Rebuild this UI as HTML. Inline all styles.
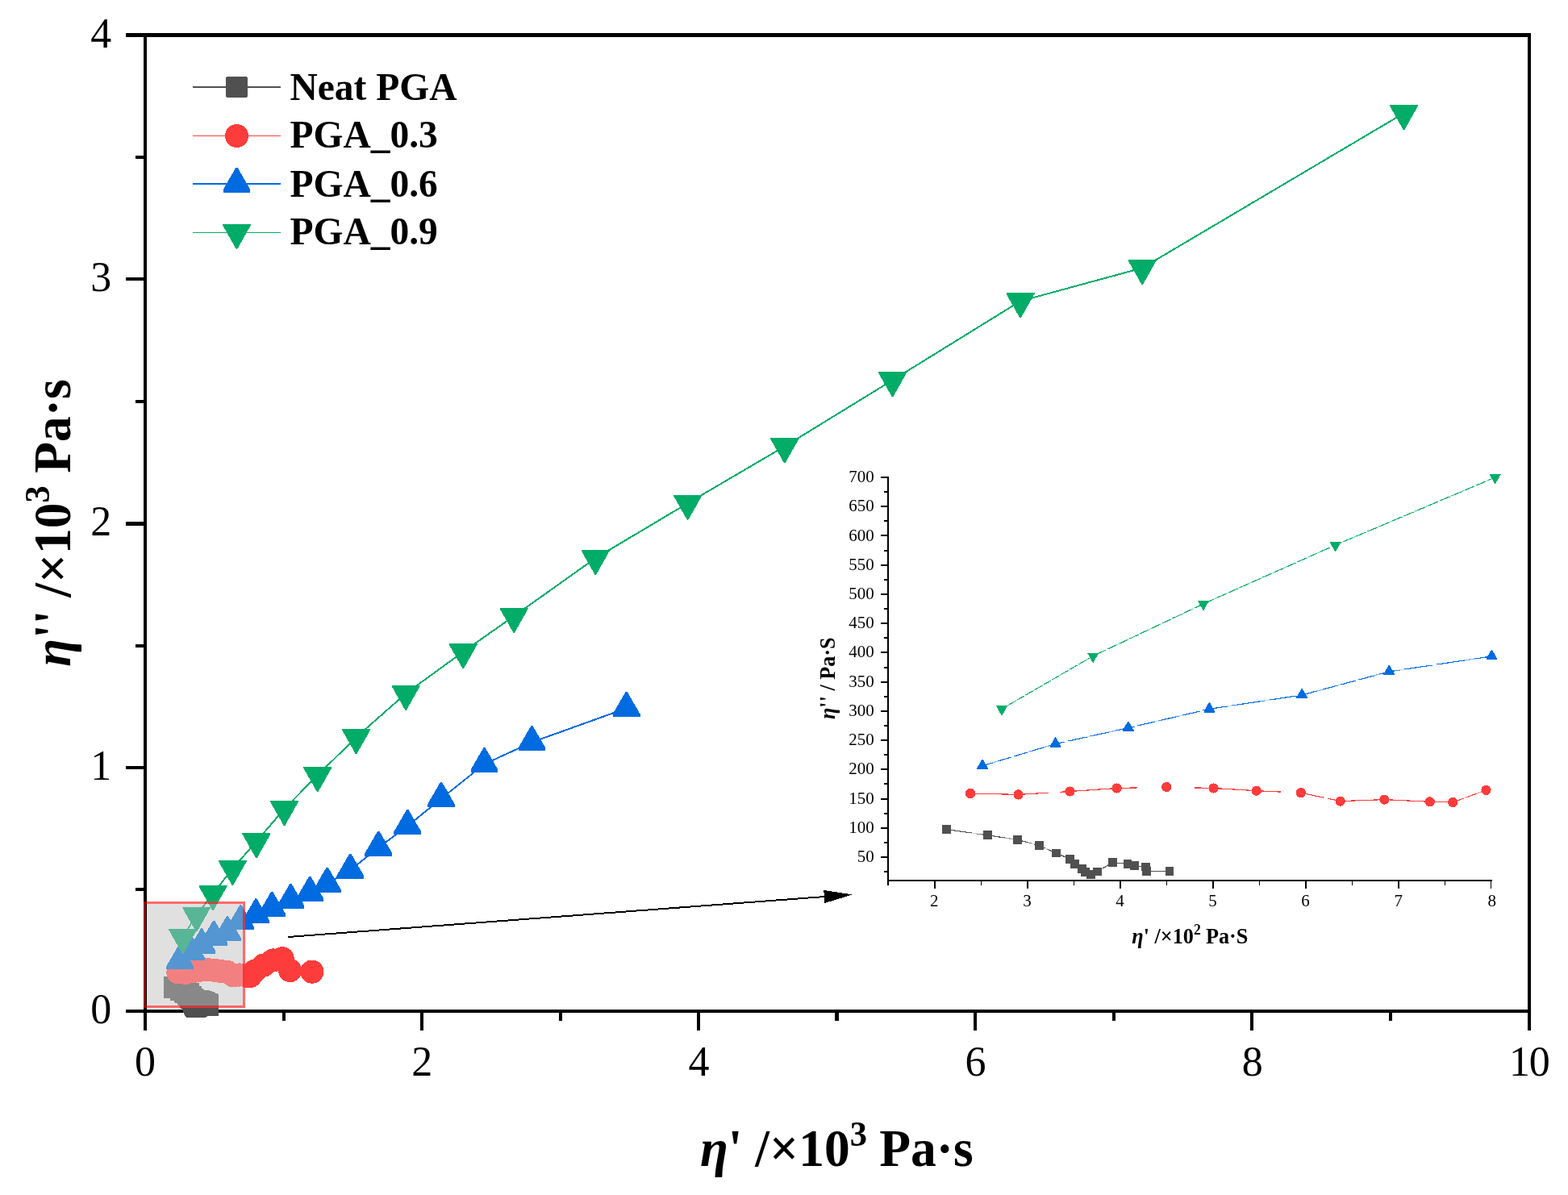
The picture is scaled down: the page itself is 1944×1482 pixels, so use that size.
<!DOCTYPE html>
<html lang="en">
<head>
<meta charset="utf-8">
<title>Cole-Cole plot</title>
<style>
html,body{margin:0;padding:0;background:#fff;}
body{width:1944px;height:1482px;overflow:hidden;font-family:"Liberation Serif",serif;}
svg{display:block;}
</style>
</head>
<body>
<svg width="1944" height="1482" viewBox="0 0 1944 1482">
<rect width="1944" height="1482" fill="#fff"/>
<g id="main-axes" shape-rendering="crispEdges">
<rect x="156" y="41" width="1742" height="5" fill="#000"/>
<rect x="156" y="1252" width="1742" height="4" fill="#000"/>
<rect x="178" y="41" width="4" height="1237" fill="#000"/>
<rect x="1894" y="41" width="4" height="1237" fill="#000"/>
<rect x="156" y="1252" width="24" height="4" fill="#000"/>
<rect x="168" y="1101" width="12" height="4" fill="#000"/>
<rect x="156" y="950" width="24" height="4" fill="#000"/>
<rect x="168" y="799" width="12" height="4" fill="#000"/>
<rect x="156" y="647" width="24" height="5" fill="#000"/>
<rect x="168" y="496" width="12" height="4" fill="#000"/>
<rect x="156" y="344" width="24" height="4" fill="#000"/>
<rect x="168" y="193" width="12" height="4" fill="#000"/>
<rect x="156" y="41" width="24" height="5" fill="#000"/>
<rect x="178" y="1254" width="4" height="24" fill="#000"/>
<rect x="350" y="1254" width="4" height="12" fill="#000"/>
<rect x="521" y="1254" width="4" height="24" fill="#000"/>
<rect x="693" y="1254" width="4" height="12" fill="#000"/>
<rect x="864" y="1254" width="4" height="24" fill="#000"/>
<rect x="1035" y="1254" width="5" height="12" fill="#000"/>
<rect x="1207" y="1254" width="4" height="24" fill="#000"/>
<rect x="1379" y="1254" width="4" height="12" fill="#000"/>
<rect x="1550" y="1254" width="4" height="24" fill="#000"/>
<rect x="1722" y="1254" width="4" height="12" fill="#000"/>
<rect x="1894" y="1254" width="4" height="24" fill="#000"/>
</g>
<g id="main-ticklabels" font-family="'Liberation Serif', serif" font-size="52" fill="#000">
<text transform="translate(180,1333.7) scale(1,1.024)" text-anchor="middle">0</text>
<text transform="translate(523.2,1333.7) scale(1,1.024)" text-anchor="middle">2</text>
<text transform="translate(866.4,1333.7) scale(1,1.024)" text-anchor="middle">4</text>
<text transform="translate(1209.6,1333.7) scale(1,1.024)" text-anchor="middle">6</text>
<text transform="translate(1552.8,1333.7) scale(1,1.024)" text-anchor="middle">8</text>
<text transform="translate(1895.8,1333.7) scale(1,1.024)" text-anchor="middle" letter-spacing="-1.2">10</text>
<text transform="translate(138.2,1269.3) scale(1,1.024)" text-anchor="end">0</text>
<text transform="translate(138.2,966.7) scale(1,1.024)" text-anchor="end">1</text>
<text transform="translate(138.2,664) scale(1,1.024)" text-anchor="end">2</text>
<text transform="translate(138.2,361.4) scale(1,1.024)" text-anchor="end">3</text>
<text transform="translate(138.2,58.8) scale(1,1.024)" text-anchor="end">4</text>
</g>
<g id="titles" font-family="'Liberation Serif', serif" font-weight="bold" font-size="63.5" fill="#000">
<text transform="translate(868,1446) scale(1,1.024)" text-anchor="start"><tspan font-style="italic">η</tspan>' /×10<tspan font-size="42.6" dy="-24.8">3</tspan><tspan dy="24.8" dx="-0.5"> Pa·s</tspan></text>
<text transform="translate(86.6,826.7) rotate(-90) scale(1,1.024)" text-anchor="start"><tspan font-style="italic">η</tspan>'' /×10<tspan font-size="42.6" dy="-24.8">3</tspan><tspan dy="24.8" dx="-0.5"> Pa·s</tspan></text>
</g>
<defs>
<clipPath id="cin"><rect x="178.2" y="1118.2" width="125.7" height="131.8"/></clipPath>
<clipPath id="cout"><path clip-rule="evenodd" d="M0 0H1944 V1482 H0Z M178.2 1118.2 H303.9 V1250 H178.2 Z"/></clipPath>
</defs>
<g id="main-series" clip-path="url(#cout)" shape-rendering="crispEdges">
<polyline points="216.5,1224.5 224.1,1227.5 229.6,1229.9 233.6,1232.9 236.7,1236.8 239.3,1239.9 240.2,1242.5 241.5,1245 242.2,1246.7 243.2,1247.7 244.4,1246.4 247.2,1241.6 250,1242.5 251.3,1243.4 253.3,1243.9 253.5,1246.2 257.7,1246.2" fill="none" stroke="#505050" stroke-width="1.8"/>
<rect x="203" y="1210.7" width="27" height="27.6" rx="1.5" fill="#505050"/>
<rect x="210.6" y="1213.7" width="27" height="27.6" rx="1.5" fill="#505050"/>
<rect x="216.1" y="1216.1" width="27" height="27.6" rx="1.5" fill="#505050"/>
<rect x="220.1" y="1219.1" width="27" height="27.6" rx="1.5" fill="#505050"/>
<rect x="223.2" y="1223" width="27" height="27.6" rx="1.5" fill="#505050"/>
<rect x="225.8" y="1226.1" width="27" height="27.6" rx="1.5" fill="#505050"/>
<rect x="226.7" y="1228.7" width="27" height="27.6" rx="1.5" fill="#505050"/>
<rect x="228" y="1231.2" width="27" height="27.6" rx="1.5" fill="#505050"/>
<rect x="228.7" y="1232.9" width="27" height="27.6" rx="1.5" fill="#505050"/>
<rect x="229.7" y="1233.9" width="27" height="27.6" rx="1.5" fill="#505050"/>
<rect x="230.9" y="1232.6" width="27" height="27.6" rx="1.5" fill="#505050"/>
<rect x="233.7" y="1227.8" width="27" height="27.6" rx="1.5" fill="#505050"/>
<rect x="236.5" y="1228.7" width="27" height="27.6" rx="1.5" fill="#505050"/>
<rect x="237.8" y="1229.6" width="27" height="27.6" rx="1.5" fill="#505050"/>
<rect x="239.8" y="1230.1" width="27" height="27.6" rx="1.5" fill="#505050"/>
<rect x="240" y="1232.4" width="27" height="27.6" rx="1.5" fill="#505050"/>
<rect x="244.2" y="1232.4" width="27" height="27.6" rx="1.5" fill="#505050"/>
<polyline points="220.9,1205.9 229.8,1206.5 239.3,1204.8 248,1203.2 257.2,1202.5 265.9,1203.2 273.8,1204.5 282,1205.5 289.3,1209.9 297.4,1209 305.8,1210.2 310.1,1210.5 316.2,1204.1 327,1197 338.5,1191 350.1,1188.7 359.6,1203.5 386.9,1205.1" fill="none" stroke="#FE3C3C" stroke-width="1.6"/>
<circle cx="220.9" cy="1205.9" r="14.6" fill="#FE3C3C"/>
<circle cx="229.8" cy="1206.5" r="14.6" fill="#FE3C3C"/>
<circle cx="239.3" cy="1204.8" r="14.6" fill="#FE3C3C"/>
<circle cx="248" cy="1203.2" r="14.6" fill="#FE3C3C"/>
<circle cx="257.2" cy="1202.5" r="14.6" fill="#FE3C3C"/>
<circle cx="265.9" cy="1203.2" r="14.6" fill="#FE3C3C"/>
<circle cx="273.8" cy="1204.5" r="14.6" fill="#FE3C3C"/>
<circle cx="282" cy="1205.5" r="14.6" fill="#FE3C3C"/>
<circle cx="289.3" cy="1209.9" r="14.6" fill="#FE3C3C"/>
<circle cx="297.4" cy="1209" r="14.6" fill="#FE3C3C"/>
<circle cx="305.8" cy="1210.2" r="14.6" fill="#FE3C3C"/>
<circle cx="310.1" cy="1210.5" r="14.6" fill="#FE3C3C"/>
<circle cx="316.2" cy="1204.1" r="14.6" fill="#FE3C3C"/>
<circle cx="327" cy="1197" r="14.6" fill="#FE3C3C"/>
<circle cx="338.5" cy="1191" r="14.6" fill="#FE3C3C"/>
<circle cx="350.1" cy="1188.7" r="14.6" fill="#FE3C3C"/>
<circle cx="359.6" cy="1203.5" r="14.6" fill="#FE3C3C"/>
<circle cx="386.9" cy="1205.1" r="14.6" fill="#FE3C3C"/>
<polyline points="223.1,1191.5 236.6,1180.2 250.1,1171.9 265.1,1162.1 282,1156.5 298.3,1142.8 317.3,1134.8 337.1,1126.2 360.4,1116.3 384.2,1107.2 405.7,1096 434.3,1079.1 469.3,1051.1 505.3,1024.4 547,990.4 600.5,947.6 659.4,920.5 776.6,878.4" fill="none" stroke="#006BE0" stroke-width="2"/>
<polygon points="222.1,1171 224.1,1171 240,1198.5 240,1202.1 206.2,1202.1 206.2,1198.5" fill="#006BE0"/>
<polygon points="235.6,1159.7 237.6,1159.7 253.5,1187.2 253.5,1190.8 219.7,1190.8 219.7,1187.2" fill="#006BE0"/>
<polygon points="249.1,1151.4 251.1,1151.4 267,1178.9 267,1182.5 233.2,1182.5 233.2,1178.9" fill="#006BE0"/>
<polygon points="264.1,1141.6 266.1,1141.6 282,1169.1 282,1172.7 248.2,1172.7 248.2,1169.1" fill="#006BE0"/>
<polygon points="281,1136 283,1136 298.9,1163.5 298.9,1167.1 265.1,1167.1 265.1,1163.5" fill="#006BE0"/>
<polygon points="297.3,1122.3 299.3,1122.3 315.2,1149.8 315.2,1153.4 281.4,1153.4 281.4,1149.8" fill="#006BE0"/>
<polygon points="316.3,1114.3 318.3,1114.3 334.2,1141.8 334.2,1145.4 300.4,1145.4 300.4,1141.8" fill="#006BE0"/>
<polygon points="336.1,1105.7 338.1,1105.7 354,1133.2 354,1136.8 320.2,1136.8 320.2,1133.2" fill="#006BE0"/>
<polygon points="359.4,1095.8 361.4,1095.8 377.3,1123.3 377.3,1126.9 343.5,1126.9 343.5,1123.3" fill="#006BE0"/>
<polygon points="383.2,1086.7 385.2,1086.7 401.1,1114.2 401.1,1117.8 367.3,1117.8 367.3,1114.2" fill="#006BE0"/>
<polygon points="404.7,1075.5 406.7,1075.5 422.6,1103 422.6,1106.6 388.8,1106.6 388.8,1103" fill="#006BE0"/>
<polygon points="433.3,1058.6 435.3,1058.6 451.2,1086.1 451.2,1089.7 417.4,1089.7 417.4,1086.1" fill="#006BE0"/>
<polygon points="468.3,1030.6 470.3,1030.6 486.2,1058.1 486.2,1061.7 452.4,1061.7 452.4,1058.1" fill="#006BE0"/>
<polygon points="504.3,1003.9 506.3,1003.9 522.2,1031.4 522.2,1035 488.4,1035 488.4,1031.4" fill="#006BE0"/>
<polygon points="546,969.9 548,969.9 563.9,997.4 563.9,1001 530.1,1001 530.1,997.4" fill="#006BE0"/>
<polygon points="599.5,927.1 601.5,927.1 617.4,954.6 617.4,958.2 583.6,958.2 583.6,954.6" fill="#006BE0"/>
<polygon points="658.4,900 660.4,900 676.3,927.5 676.3,931.1 642.5,931.1 642.5,927.5" fill="#006BE0"/>
<polygon points="775.6,857.9 777.6,857.9 793.5,885.4 793.5,889 759.7,889 759.7,885.4" fill="#006BE0"/>
<polyline points="226.7,1162.1 243.6,1134.7 264,1108.3 288.4,1077.2 317.9,1043.4 352.5,1003.3 393.7,961.4 441.6,914.4 503.1,860.1 574.2,808.4 637.2,764.1 738.3,692.2 852.6,624.1 972.8,553.6 1106.5,471.5 1265,373.5 1416.2,332.3 1740.5,140.4" fill="none" stroke="#00AC68" stroke-width="2"/>
<polygon points="209.2,1151.9 244.2,1151.9 244.2,1153.1 227.5,1182.7 225.9,1182.7 209.2,1153.1" fill="#00AC68"/>
<polygon points="226.1,1124.5 261.1,1124.5 261.1,1125.7 244.4,1155.3 242.8,1155.3 226.1,1125.7" fill="#00AC68"/>
<polygon points="246.5,1098.1 281.5,1098.1 281.5,1099.3 264.8,1128.9 263.2,1128.9 246.5,1099.3" fill="#00AC68"/>
<polygon points="270.9,1067 305.9,1067 305.9,1068.2 289.2,1097.8 287.6,1097.8 270.9,1068.2" fill="#00AC68"/>
<polygon points="300.4,1033.2 335.4,1033.2 335.4,1034.4 318.7,1064 317.1,1064 300.4,1034.4" fill="#00AC68"/>
<polygon points="335,993.1 370,993.1 370,994.3 353.3,1023.9 351.7,1023.9 335,994.3" fill="#00AC68"/>
<polygon points="376.2,951.2 411.2,951.2 411.2,952.4 394.5,982 392.9,982 376.2,952.4" fill="#00AC68"/>
<polygon points="424.1,904.2 459.1,904.2 459.1,905.4 442.4,935 440.8,935 424.1,905.4" fill="#00AC68"/>
<polygon points="485.6,849.9 520.6,849.9 520.6,851.1 503.9,880.7 502.3,880.7 485.6,851.1" fill="#00AC68"/>
<polygon points="556.7,798.2 591.7,798.2 591.7,799.4 575,829 573.4,829 556.7,799.4" fill="#00AC68"/>
<polygon points="619.7,753.9 654.7,753.9 654.7,755.1 638,784.7 636.4,784.7 619.7,755.1" fill="#00AC68"/>
<polygon points="720.8,682 755.8,682 755.8,683.2 739.1,712.8 737.5,712.8 720.8,683.2" fill="#00AC68"/>
<polygon points="835.1,613.9 870.1,613.9 870.1,615.1 853.4,644.7 851.8,644.7 835.1,615.1" fill="#00AC68"/>
<polygon points="955.3,543.4 990.3,543.4 990.3,544.6 973.6,574.2 972,574.2 955.3,544.6" fill="#00AC68"/>
<polygon points="1089,461.3 1124,461.3 1124,462.5 1107.3,492.1 1105.7,492.1 1089,462.5" fill="#00AC68"/>
<polygon points="1247.5,363.3 1282.5,363.3 1282.5,364.5 1265.8,394.1 1264.2,394.1 1247.5,364.5" fill="#00AC68"/>
<polygon points="1398.7,322.1 1433.7,322.1 1433.7,323.3 1417,352.9 1415.4,352.9 1398.7,323.3" fill="#00AC68"/>
<polygon points="1723,130.2 1758,130.2 1758,131.4 1741.3,161 1739.7,161 1723,131.4" fill="#00AC68"/>
</g>
<g id="highlight" shape-rendering="crispEdges">
<rect x="182" y="1121" width="119" height="126.6" fill="#E0E0E0"/>
<g clip-path="url(#cin)">
<polyline points="216.5,1224.5 224.1,1227.5 229.6,1229.9 233.6,1232.9 236.7,1236.8 239.3,1239.9 240.2,1242.5 241.5,1245 242.2,1246.7 243.2,1247.7 244.4,1246.4 247.2,1241.6 250,1242.5 251.3,1243.4 253.3,1243.9 253.5,1246.2 257.7,1246.2" fill="none" stroke="#888888" stroke-width="1.8"/>
<rect x="203" y="1210.7" width="27" height="27.6" rx="1.5" fill="#888888"/>
<rect x="210.6" y="1213.7" width="27" height="27.6" rx="1.5" fill="#888888"/>
<rect x="216.1" y="1216.1" width="27" height="27.6" rx="1.5" fill="#888888"/>
<rect x="220.1" y="1219.1" width="27" height="27.6" rx="1.5" fill="#888888"/>
<rect x="223.2" y="1223" width="27" height="27.6" rx="1.5" fill="#888888"/>
<rect x="225.8" y="1226.1" width="27" height="27.6" rx="1.5" fill="#888888"/>
<rect x="226.7" y="1228.7" width="27" height="27.6" rx="1.5" fill="#888888"/>
<rect x="228" y="1231.2" width="27" height="27.6" rx="1.5" fill="#888888"/>
<rect x="228.7" y="1232.9" width="27" height="27.6" rx="1.5" fill="#888888"/>
<rect x="229.7" y="1233.9" width="27" height="27.6" rx="1.5" fill="#888888"/>
<rect x="230.9" y="1232.6" width="27" height="27.6" rx="1.5" fill="#888888"/>
<rect x="233.7" y="1227.8" width="27" height="27.6" rx="1.5" fill="#888888"/>
<rect x="236.5" y="1228.7" width="27" height="27.6" rx="1.5" fill="#888888"/>
<rect x="237.8" y="1229.6" width="27" height="27.6" rx="1.5" fill="#888888"/>
<rect x="239.8" y="1230.1" width="27" height="27.6" rx="1.5" fill="#888888"/>
<rect x="240" y="1232.4" width="27" height="27.6" rx="1.5" fill="#888888"/>
<rect x="244.2" y="1232.4" width="27" height="27.6" rx="1.5" fill="#888888"/>
<polyline points="220.9,1205.9 229.8,1206.5 239.3,1204.8 248,1203.2 257.2,1202.5 265.9,1203.2 273.8,1204.5 282,1205.5 289.3,1209.9 297.4,1209 305.8,1210.2 310.1,1210.5 316.2,1204.1 327,1197 338.5,1191 350.1,1188.7 359.6,1203.5 386.9,1205.1" fill="none" stroke="#F38080" stroke-width="1.6"/>
<circle cx="220.9" cy="1205.9" r="14.6" fill="#F38080"/>
<circle cx="229.8" cy="1206.5" r="14.6" fill="#F38080"/>
<circle cx="239.3" cy="1204.8" r="14.6" fill="#F38080"/>
<circle cx="248" cy="1203.2" r="14.6" fill="#F38080"/>
<circle cx="257.2" cy="1202.5" r="14.6" fill="#F38080"/>
<circle cx="265.9" cy="1203.2" r="14.6" fill="#F38080"/>
<circle cx="273.8" cy="1204.5" r="14.6" fill="#F38080"/>
<circle cx="282" cy="1205.5" r="14.6" fill="#F38080"/>
<circle cx="289.3" cy="1209.9" r="14.6" fill="#F38080"/>
<circle cx="297.4" cy="1209" r="14.6" fill="#F38080"/>
<circle cx="305.8" cy="1210.2" r="14.6" fill="#F38080"/>
<circle cx="310.1" cy="1210.5" r="14.6" fill="#F38080"/>
<circle cx="316.2" cy="1204.1" r="14.6" fill="#F38080"/>
<circle cx="327" cy="1197" r="14.6" fill="#F38080"/>
<circle cx="338.5" cy="1191" r="14.6" fill="#F38080"/>
<circle cx="350.1" cy="1188.7" r="14.6" fill="#F38080"/>
<circle cx="359.6" cy="1203.5" r="14.6" fill="#F38080"/>
<circle cx="386.9" cy="1205.1" r="14.6" fill="#F38080"/>
<polyline points="223.1,1191.5 236.6,1180.2 250.1,1171.9 265.1,1162.1 282,1156.5 298.3,1142.8 317.3,1134.8 337.1,1126.2 360.4,1116.3 384.2,1107.2 405.7,1096 434.3,1079.1 469.3,1051.1 505.3,1024.4 547,990.4 600.5,947.6 659.4,920.5 776.6,878.4" fill="none" stroke="#5396D2" stroke-width="2"/>
<polygon points="222.1,1171 224.1,1171 240,1198.5 240,1202.1 206.2,1202.1 206.2,1198.5" fill="#5396D2"/>
<polygon points="235.6,1159.7 237.6,1159.7 253.5,1187.2 253.5,1190.8 219.7,1190.8 219.7,1187.2" fill="#5396D2"/>
<polygon points="249.1,1151.4 251.1,1151.4 267,1178.9 267,1182.5 233.2,1182.5 233.2,1178.9" fill="#5396D2"/>
<polygon points="264.1,1141.6 266.1,1141.6 282,1169.1 282,1172.7 248.2,1172.7 248.2,1169.1" fill="#5396D2"/>
<polygon points="281,1136 283,1136 298.9,1163.5 298.9,1167.1 265.1,1167.1 265.1,1163.5" fill="#5396D2"/>
<polygon points="297.3,1122.3 299.3,1122.3 315.2,1149.8 315.2,1153.4 281.4,1153.4 281.4,1149.8" fill="#5396D2"/>
<polygon points="316.3,1114.3 318.3,1114.3 334.2,1141.8 334.2,1145.4 300.4,1145.4 300.4,1141.8" fill="#5396D2"/>
<polygon points="336.1,1105.7 338.1,1105.7 354,1133.2 354,1136.8 320.2,1136.8 320.2,1133.2" fill="#5396D2"/>
<polygon points="359.4,1095.8 361.4,1095.8 377.3,1123.3 377.3,1126.9 343.5,1126.9 343.5,1123.3" fill="#5396D2"/>
<polygon points="383.2,1086.7 385.2,1086.7 401.1,1114.2 401.1,1117.8 367.3,1117.8 367.3,1114.2" fill="#5396D2"/>
<polygon points="404.7,1075.5 406.7,1075.5 422.6,1103 422.6,1106.6 388.8,1106.6 388.8,1103" fill="#5396D2"/>
<polygon points="433.3,1058.6 435.3,1058.6 451.2,1086.1 451.2,1089.7 417.4,1089.7 417.4,1086.1" fill="#5396D2"/>
<polygon points="468.3,1030.6 470.3,1030.6 486.2,1058.1 486.2,1061.7 452.4,1061.7 452.4,1058.1" fill="#5396D2"/>
<polygon points="504.3,1003.9 506.3,1003.9 522.2,1031.4 522.2,1035 488.4,1035 488.4,1031.4" fill="#5396D2"/>
<polygon points="546,969.9 548,969.9 563.9,997.4 563.9,1001 530.1,1001 530.1,997.4" fill="#5396D2"/>
<polygon points="599.5,927.1 601.5,927.1 617.4,954.6 617.4,958.2 583.6,958.2 583.6,954.6" fill="#5396D2"/>
<polygon points="658.4,900 660.4,900 676.3,927.5 676.3,931.1 642.5,931.1 642.5,927.5" fill="#5396D2"/>
<polygon points="775.6,857.9 777.6,857.9 793.5,885.4 793.5,889 759.7,889 759.7,885.4" fill="#5396D2"/>
<polyline points="226.7,1162.1 243.6,1134.7 264,1108.3 288.4,1077.2 317.9,1043.4 352.5,1003.3 393.7,961.4 441.6,914.4 503.1,860.1 574.2,808.4 637.2,764.1 738.3,692.2 852.6,624.1 972.8,553.6 1106.5,471.5 1265,373.5 1416.2,332.3 1740.5,140.4" fill="none" stroke="#58B596" stroke-width="2"/>
<polygon points="209.2,1151.9 244.2,1151.9 244.2,1153.1 227.5,1182.7 225.9,1182.7 209.2,1153.1" fill="#58B596"/>
<polygon points="226.1,1124.5 261.1,1124.5 261.1,1125.7 244.4,1155.3 242.8,1155.3 226.1,1125.7" fill="#58B596"/>
<polygon points="246.5,1098.1 281.5,1098.1 281.5,1099.3 264.8,1128.9 263.2,1128.9 246.5,1099.3" fill="#58B596"/>
<polygon points="270.9,1067 305.9,1067 305.9,1068.2 289.2,1097.8 287.6,1097.8 270.9,1068.2" fill="#58B596"/>
<polygon points="300.4,1033.2 335.4,1033.2 335.4,1034.4 318.7,1064 317.1,1064 300.4,1034.4" fill="#58B596"/>
<polygon points="335,993.1 370,993.1 370,994.3 353.3,1023.9 351.7,1023.9 335,994.3" fill="#58B596"/>
<polygon points="376.2,951.2 411.2,951.2 411.2,952.4 394.5,982 392.9,982 376.2,952.4" fill="#58B596"/>
<polygon points="424.1,904.2 459.1,904.2 459.1,905.4 442.4,935 440.8,935 424.1,905.4" fill="#58B596"/>
<polygon points="485.6,849.9 520.6,849.9 520.6,851.1 503.9,880.7 502.3,880.7 485.6,851.1" fill="#58B596"/>
<polygon points="556.7,798.2 591.7,798.2 591.7,799.4 575,829 573.4,829 556.7,799.4" fill="#58B596"/>
<polygon points="619.7,753.9 654.7,753.9 654.7,755.1 638,784.7 636.4,784.7 619.7,755.1" fill="#58B596"/>
<polygon points="720.8,682 755.8,682 755.8,683.2 739.1,712.8 737.5,712.8 720.8,683.2" fill="#58B596"/>
<polygon points="835.1,613.9 870.1,613.9 870.1,615.1 853.4,644.7 851.8,644.7 835.1,615.1" fill="#58B596"/>
<polygon points="955.3,543.4 990.3,543.4 990.3,544.6 973.6,574.2 972,574.2 955.3,544.6" fill="#58B596"/>
<polygon points="1089,461.3 1124,461.3 1124,462.5 1107.3,492.1 1105.7,492.1 1089,462.5" fill="#58B596"/>
<polygon points="1247.5,363.3 1282.5,363.3 1282.5,364.5 1265.8,394.1 1264.2,394.1 1247.5,364.5" fill="#58B596"/>
<polygon points="1398.7,322.1 1433.7,322.1 1433.7,323.3 1417,352.9 1415.4,352.9 1398.7,323.3" fill="#58B596"/>
<polygon points="1723,130.2 1758,130.2 1758,131.4 1741.3,161 1739.7,161 1723,131.4" fill="#58B596"/>
</g>
<rect x="179.6" y="1119.6" width="122.9" height="129.1" fill="none" stroke="rgba(255,0,0,0.58)" stroke-width="2.8"/>
</g>
<g id="arrow" shape-rendering="crispEdges">
<line x1="357" y1="1162" x2="1024.9" y2="1111.8" stroke="#000" stroke-width="2"/>
<polygon points="1056.8,1109.4 1022.5,1120 1021.3,1104" fill="#000"/>
</g>
<g id="legend" shape-rendering="crispEdges">
<rect x="239" y="107" width="109" height="2" fill="#505050"/>
<rect x="280.2" y="95.2" width="26.5" height="25.5" rx="1.5" fill="#505050"/>
<text transform="translate(359.5,123.8) scale(1,1.024)" text-anchor="start" font-family="'Liberation Serif', serif" font-weight="bold" font-size="47.5" fill="#000">Neat PGA</text>
<rect x="239" y="168" width="109" height="1" fill="#FE3C3C"/>
<circle cx="293.5" cy="168.5" r="14.5" fill="#FE3C3C"/>
<text transform="translate(359.5,183.4) scale(1,1.024)" text-anchor="start" font-family="'Liberation Serif', serif" font-weight="bold" font-size="47.5" fill="#000">PGA_0.3</text>
<rect x="239" y="227" width="109" height="2" fill="#006BE0"/>
<polygon points="292.5,207.7 294.5,207.7 310.4,235.2 310.4,238.8 276.6,238.8 276.6,235.2" fill="#006BE0"/>
<text transform="translate(359.5,243.8) scale(1,1.024)" text-anchor="start" font-family="'Liberation Serif', serif" font-weight="bold" font-size="47.5" fill="#000">PGA_0.6</text>
<rect x="239" y="288" width="109" height="1" fill="#00AC68"/>
<polygon points="276,278 311,278 311,279.2 294.3,308.8 292.7,308.8 276,279.2" fill="#00AC68"/>
<text transform="translate(359.5,303.4) scale(1,1.024)" text-anchor="start" font-family="'Liberation Serif', serif" font-weight="bold" font-size="47.5" fill="#000">PGA_0.9</text>
</g>
<g id="inset-axes" shape-rendering="crispEdges">
<rect x="1100" y="591" width="2" height="507" fill="#000"/>
<rect x="1100" y="1091" width="750.2" height="2" fill="#000"/>
<rect x="1096" y="1080" width="4" height="2" fill="#000"/>
<rect x="1092" y="1062" width="8" height="2" fill="#000"/>
<rect x="1096" y="1044" width="4" height="2" fill="#000"/>
<rect x="1092" y="1026" width="8" height="2" fill="#000"/>
<rect x="1096" y="1008" width="4" height="2" fill="#000"/>
<rect x="1092" y="990" width="8" height="2" fill="#000"/>
<rect x="1096" y="971" width="4" height="2" fill="#000"/>
<rect x="1092" y="953" width="8" height="2" fill="#000"/>
<rect x="1096" y="935" width="4" height="2" fill="#000"/>
<rect x="1092" y="917" width="8" height="2" fill="#000"/>
<rect x="1096" y="899" width="4" height="2" fill="#000"/>
<rect x="1092" y="881" width="8" height="2" fill="#000"/>
<rect x="1096" y="863" width="4" height="2" fill="#000"/>
<rect x="1092" y="845" width="8" height="2" fill="#000"/>
<rect x="1096" y="827" width="4" height="2" fill="#000"/>
<rect x="1092" y="808" width="8" height="2" fill="#000"/>
<rect x="1096" y="790" width="4" height="2" fill="#000"/>
<rect x="1092" y="772" width="8" height="2" fill="#000"/>
<rect x="1096" y="754" width="4" height="2" fill="#000"/>
<rect x="1092" y="736" width="8" height="2" fill="#000"/>
<rect x="1096" y="718" width="4" height="2" fill="#000"/>
<rect x="1092" y="700" width="8" height="2" fill="#000"/>
<rect x="1096" y="682" width="4" height="2" fill="#000"/>
<rect x="1092" y="663" width="8" height="2" fill="#000"/>
<rect x="1096" y="645" width="4" height="2" fill="#000"/>
<rect x="1092" y="627" width="8" height="2" fill="#000"/>
<rect x="1096" y="609" width="4" height="2" fill="#000"/>
<rect x="1092" y="591" width="8" height="2" fill="#000"/>
<rect x="1158" y="1092" width="2" height="10" fill="#000"/>
<rect x="1216" y="1092" width="1.4" height="6" fill="#000"/>
<rect x="1273" y="1092" width="2" height="10" fill="#000"/>
<rect x="1331" y="1092" width="1.4" height="6" fill="#000"/>
<rect x="1388" y="1092" width="2" height="10" fill="#000"/>
<rect x="1446" y="1092" width="1.4" height="6" fill="#000"/>
<rect x="1503" y="1092" width="2" height="10" fill="#000"/>
<rect x="1561" y="1092" width="1.4" height="6" fill="#000"/>
<rect x="1618" y="1092" width="2" height="10" fill="#000"/>
<rect x="1676" y="1092" width="1.4" height="6" fill="#000"/>
<rect x="1733" y="1092" width="2" height="10" fill="#000"/>
<rect x="1791" y="1092" width="1.4" height="6" fill="#000"/>
<rect x="1848" y="1092" width="1.3" height="10" fill="#000"/>
</g>
<g id="inset-ticklabels" font-family="'Liberation Serif', serif" font-size="21" fill="#000">
<text transform="translate(1083.8,1069) scale(1,1.024)" text-anchor="end">50</text>
<text transform="translate(1083.8,1032.8) scale(1,1.024)" text-anchor="end">100</text>
<text transform="translate(1083.8,996.5) scale(1,1.024)" text-anchor="end">150</text>
<text transform="translate(1083.8,960.3) scale(1,1.024)" text-anchor="end">200</text>
<text transform="translate(1083.8,924.1) scale(1,1.024)" text-anchor="end">250</text>
<text transform="translate(1083.8,887.9) scale(1,1.024)" text-anchor="end">300</text>
<text transform="translate(1083.8,851.6) scale(1,1.024)" text-anchor="end">350</text>
<text transform="translate(1083.8,815.4) scale(1,1.024)" text-anchor="end">400</text>
<text transform="translate(1083.8,779.2) scale(1,1.024)" text-anchor="end">450</text>
<text transform="translate(1083.8,742.9) scale(1,1.024)" text-anchor="end">500</text>
<text transform="translate(1083.8,706.7) scale(1,1.024)" text-anchor="end">550</text>
<text transform="translate(1083.8,670.5) scale(1,1.024)" text-anchor="end">600</text>
<text transform="translate(1083.8,634.2) scale(1,1.024)" text-anchor="end">650</text>
<text transform="translate(1083.8,598) scale(1,1.024)" text-anchor="end">700</text>
<text transform="translate(1158.3,1124.2) scale(1,1.024)" text-anchor="middle">2</text>
<text transform="translate(1273.4,1124.2) scale(1,1.024)" text-anchor="middle">3</text>
<text transform="translate(1388.5,1124.2) scale(1,1.024)" text-anchor="middle">4</text>
<text transform="translate(1503.5,1124.2) scale(1,1.024)" text-anchor="middle">5</text>
<text transform="translate(1618.6,1124.2) scale(1,1.024)" text-anchor="middle">6</text>
<text transform="translate(1733.7,1124.2) scale(1,1.024)" text-anchor="middle">7</text>
<text transform="translate(1849.7,1124.2) scale(1,1.024)" text-anchor="middle">8</text>
</g>
<g id="inset-titles" font-family="'Liberation Serif', serif" font-weight="bold" font-size="26.2" fill="#000">
<text transform="translate(1403.3,1170) scale(1,1.024)" text-anchor="start"><tspan font-style="italic">η</tspan>' /×10<tspan font-size="17.6" dy="-10.3">2</tspan><tspan dy="10.3" dx="-0.3"> Pa·S</tspan></text>
<text transform="translate(1035.2,892) rotate(-90) scale(1,1.024)" text-anchor="start"><tspan font-style="italic">η</tspan>'' / Pa·S</text>
</g>
<defs><clipPath id="rows"><path d="M1100 577.7 H1870 V583 H1100 Z M1100 584 H1870 V589.4 H1100 Z M1100 590.4 H1870 V595.7 H1100 Z M1100 596.7 H1870 V602 H1100 Z M1100 603 H1870 V608.4 H1100 Z M1100 609.4 H1870 V614.7 H1100 Z M1100 615.7 H1870 V621.1 H1100 Z M1100 622.1 H1870 V627.4 H1100 Z M1100 628.4 H1870 V633.7 H1100 Z M1100 634.7 H1870 V640.1 H1100 Z M1100 641.1 H1870 V646.4 H1100 Z M1100 647.4 H1870 V652.8 H1100 Z M1100 653.8 H1870 V659.1 H1100 Z M1100 660.1 H1870 V665.4 H1100 Z M1100 666.4 H1870 V671.8 H1100 Z M1100 672.8 H1870 V678.1 H1100 Z M1100 679.1 H1870 V684.5 H1100 Z M1100 685.5 H1870 V690.8 H1100 Z M1100 691.8 H1870 V697.1 H1100 Z M1100 698.1 H1870 V703.5 H1100 Z M1100 704.5 H1870 V709.8 H1100 Z M1100 710.8 H1870 V716.2 H1100 Z M1100 717.2 H1870 V722.5 H1100 Z M1100 723.5 H1870 V728.8 H1100 Z M1100 729.8 H1870 V735.2 H1100 Z M1100 736.2 H1870 V741.5 H1100 Z M1100 742.5 H1870 V747.9 H1100 Z M1100 748.9 H1870 V754.2 H1100 Z M1100 755.2 H1870 V760.5 H1100 Z M1100 761.5 H1870 V766.9 H1100 Z M1100 767.9 H1870 V773.2 H1100 Z M1100 774.2 H1870 V779.6 H1100 Z M1100 780.6 H1870 V785.9 H1100 Z M1100 786.9 H1870 V792.2 H1100 Z M1100 793.2 H1870 V798.6 H1100 Z M1100 799.6 H1870 V804.9 H1100 Z M1100 805.9 H1870 V811.3 H1100 Z M1100 812.3 H1870 V817.6 H1100 Z M1100 818.6 H1870 V823.9 H1100 Z M1100 824.9 H1870 V830.3 H1100 Z M1100 831.3 H1870 V836.6 H1100 Z M1100 837.6 H1870 V843 H1100 Z M1100 844 H1870 V849.3 H1100 Z M1100 850.3 H1870 V855.6 H1100 Z M1100 856.6 H1870 V862 H1100 Z M1100 863 H1870 V868.3 H1100 Z M1100 869.3 H1870 V874.7 H1100 Z M1100 875.7 H1870 V881 H1100 Z M1100 882 H1870 V887.3 H1100 Z M1100 888.3 H1870 V893.7 H1100 Z M1100 894.7 H1870 V900 H1100 Z M1100 901 H1870 V906.4 H1100 Z M1100 907.4 H1870 V912.7 H1100 Z M1100 913.7 H1870 V919 H1100 Z M1100 920 H1870 V925.4 H1100 Z M1100 926.4 H1870 V931.7 H1100 Z M1100 932.7 H1870 V938.1 H1100 Z M1100 939.1 H1870 V944.4 H1100 Z M1100 945.4 H1870 V950.7 H1100 Z M1100 951.7 H1870 V957.1 H1100 Z M1100 958.1 H1870 V963.4 H1100 Z M1100 964.4 H1870 V969.8 H1100 Z M1100 970.8 H1870 V976.1 H1100 Z M1100 977.1 H1870 V982.4 H1100 Z M1100 983.4 H1870 V988.8 H1100 Z M1100 989.8 H1870 V995.1 H1100 Z M1100 996.1 H1870 V1001.5 H1100 Z M1100 1002.5 H1870 V1007.8 H1100 Z M1100 1008.8 H1870 V1014.1 H1100 Z M1100 1015.1 H1870 V1020.5 H1100 Z M1100 1021.5 H1870 V1026.8 H1100 Z M1100 1027.8 H1870 V1033.2 H1100 Z M1100 1034.2 H1870 V1039.5 H1100 Z M1100 1040.5 H1870 V1045.8 H1100 Z M1100 1046.8 H1870 V1052.2 H1100 Z M1100 1053.2 H1870 V1058.5 H1100 Z M1100 1059.5 H1870 V1064.9 H1100 Z M1100 1065.9 H1870 V1071.2 H1100 Z M1100 1072.2 H1870 V1077.5 H1100 Z M1100 1078.5 H1870 V1083.9 H1100 Z M1100 1084.9 H1870 V1090.2 H1100 Z M1100 1091.2 H1870 V1096.6 H1100 Z M1100 1097.6 H1870 V1102.9 H1100 Z"/></clipPath></defs>
<g id="inset-series" shape-rendering="crispEdges">
<g clip-path="url(#rows)">
<polyline points="1173.3,1028.6 1224.4,1035.8 1261.7,1041.5 1288.6,1048.6 1309.4,1058 1326.4,1065.4 1332.8,1071.6 1341.5,1077.8 1345.7,1081.7 1352.6,1084.2 1360.5,1081 1379.5,1069.6 1398,1071.6 1406.7,1073.8 1420.5,1075 1421.5,1080.5 1449.9,1080.5" fill="none" stroke="#505050" stroke-width="1.2"/>
<polyline points="1801.2,995 1842.5,979.8" fill="none" stroke="#FE3C3C" stroke-width="1.2"/>
<polyline points="1218,949.7 1308.6,922.5 1398.8,902.7 1499.3,879.3 1614.1,862 1722.2,832.9 1849.4,813.9" fill="none" stroke="#006BE0" stroke-width="1.2"/>
<polyline points="1242,879.2 1355.1,813.6 1491.9,748.9 1655.6,676 1853.6,592.1" fill="none" stroke="#00AC68" stroke-width="1.2"/>
</g>
<line x1="1203" y1="984" x2="1262.5" y2="985.4" stroke="#FE3C3C" stroke-width="1.2"/>
<line x1="1262.9" y1="985.4" x2="1299.8" y2="983.1" stroke="#FE3C3C" stroke-width="1.2"/>
<line x1="1313.8" y1="982.3" x2="1326.4" y2="981.5" stroke="#FE3C3C" stroke-width="1.2"/>
<line x1="1326.4" y1="981.5" x2="1384.7" y2="977.5" stroke="#FE3C3C" stroke-width="1.2"/>
<line x1="1384.5" y1="977.5" x2="1410" y2="976.9" stroke="#FE3C3C" stroke-width="1.2"/>
<line x1="1480.8" y1="976.9" x2="1504.4" y2="977.5" stroke="#FE3C3C" stroke-width="1.2"/>
<line x1="1504.7" y1="977.5" x2="1557.8" y2="980.7" stroke="#FE3C3C" stroke-width="1.2"/>
<line x1="1558" y1="980.7" x2="1587.9" y2="982.1" stroke="#FE3C3C" stroke-width="1.2"/>
<line x1="1612.9" y1="983.2" x2="1640.7" y2="989.1" stroke="#FE3C3C" stroke-width="1.2"/>
<line x1="1645.9" y1="990.2" x2="1661.8" y2="993.6" stroke="#FE3C3C" stroke-width="1.2"/>
<line x1="1661.7" y1="993.6" x2="1716.3" y2="991.6" stroke="#FE3C3C" stroke-width="1.2"/>
<line x1="1716.3" y1="991.6" x2="1772.8" y2="994.3" stroke="#FE3C3C" stroke-width="1.2"/>
<line x1="1772.8" y1="994.3" x2="1801.2" y2="995" stroke="#FE3C3C" stroke-width="1.2"/>
<rect x="1167.8" y="1023.1" width="10.9" height="10.9" rx="0.5" fill="#505050"/>
<rect x="1219" y="1030.3" width="10.9" height="10.9" rx="0.5" fill="#505050"/>
<rect x="1256.2" y="1036" width="10.9" height="10.9" rx="0.5" fill="#505050"/>
<rect x="1283.1" y="1043.1" width="10.9" height="10.9" rx="0.5" fill="#505050"/>
<rect x="1304" y="1052.5" width="10.9" height="10.9" rx="0.5" fill="#505050"/>
<rect x="1321" y="1060" width="10.9" height="10.9" rx="0.5" fill="#505050"/>
<rect x="1327.3" y="1066.1" width="10.9" height="10.9" rx="0.5" fill="#505050"/>
<rect x="1336" y="1072.3" width="10.9" height="10.9" rx="0.5" fill="#505050"/>
<rect x="1340.2" y="1076.2" width="10.9" height="10.9" rx="0.5" fill="#505050"/>
<rect x="1347.1" y="1078.8" width="10.9" height="10.9" rx="0.5" fill="#505050"/>
<rect x="1355" y="1075.5" width="10.9" height="10.9" rx="0.5" fill="#505050"/>
<rect x="1374" y="1064.1" width="10.9" height="10.9" rx="0.5" fill="#505050"/>
<rect x="1392.5" y="1066.1" width="10.9" height="10.9" rx="0.5" fill="#505050"/>
<rect x="1401.2" y="1068.3" width="10.9" height="10.9" rx="0.5" fill="#505050"/>
<rect x="1415" y="1069.5" width="10.9" height="10.9" rx="0.5" fill="#505050"/>
<rect x="1416" y="1075" width="10.9" height="10.9" rx="0.5" fill="#505050"/>
<rect x="1444.5" y="1075" width="10.9" height="10.9" rx="0.5" fill="#505050"/>
<circle cx="1203" cy="984" r="6.1" fill="#FE3C3C"/>
<circle cx="1262.5" cy="985.4" r="6.1" fill="#FE3C3C"/>
<circle cx="1326.4" cy="981.5" r="6.1" fill="#FE3C3C"/>
<circle cx="1384.7" cy="977.5" r="6.1" fill="#FE3C3C"/>
<circle cx="1446.3" cy="976" r="6.1" fill="#FE3C3C"/>
<circle cx="1504.7" cy="977.5" r="6.1" fill="#FE3C3C"/>
<circle cx="1557.8" cy="980.7" r="6.1" fill="#FE3C3C"/>
<circle cx="1612.8" cy="983.2" r="6.1" fill="#FE3C3C"/>
<circle cx="1661.7" cy="993.6" r="6.1" fill="#FE3C3C"/>
<circle cx="1716.3" cy="991.6" r="6.1" fill="#FE3C3C"/>
<circle cx="1772.8" cy="994.3" r="6.1" fill="#FE3C3C"/>
<circle cx="1801.2" cy="995" r="6.1" fill="#FE3C3C"/>
<circle cx="1842.5" cy="979.8" r="6.1" fill="#FE3C3C"/>
<polygon points="1217.6,941.5 1218.4,941.5 1224.8,952.5 1224.8,953.9 1211.2,953.9 1211.2,952.5" fill="#006BE0"/>
<polygon points="1308.2,914.3 1309,914.3 1315.4,925.3 1315.4,926.7 1301.8,926.7 1301.8,925.3" fill="#006BE0"/>
<polygon points="1398.4,894.5 1399.2,894.5 1405.6,905.5 1405.6,906.9 1392,906.9 1392,905.5" fill="#006BE0"/>
<polygon points="1498.9,871.1 1499.7,871.1 1506.1,882.1 1506.1,883.5 1492.5,883.5 1492.5,882.1" fill="#006BE0"/>
<polygon points="1613.7,853.8 1614.5,853.8 1620.9,864.8 1620.9,866.2 1607.3,866.2 1607.3,864.8" fill="#006BE0"/>
<polygon points="1721.8,824.7 1722.6,824.7 1729,835.7 1729,837.1 1715.4,837.1 1715.4,835.7" fill="#006BE0"/>
<polygon points="1849,805.7 1849.8,805.7 1856.2,816.7 1856.2,818.1 1842.6,818.1 1842.6,816.7" fill="#006BE0"/>
<polygon points="1235,875.1 1249,875.1 1249,875.6 1242.3,887.4 1241.7,887.4 1235,875.6" fill="#00AC68"/>
<polygon points="1348.1,809.5 1362.1,809.5 1362.1,810 1355.4,821.8 1354.8,821.8 1348.1,810" fill="#00AC68"/>
<polygon points="1484.9,744.8 1498.9,744.8 1498.9,745.3 1492.2,757.1 1491.6,757.1 1484.9,745.3" fill="#00AC68"/>
<polygon points="1648.6,671.9 1662.6,671.9 1662.6,672.4 1655.9,684.2 1655.3,684.2 1648.6,672.4" fill="#00AC68"/>
<polygon points="1846.6,588 1860.6,588 1860.6,588.5 1853.9,600.3 1853.3,600.3 1846.6,588.5" fill="#00AC68"/>
</g>
</svg>
</body>
</html>
